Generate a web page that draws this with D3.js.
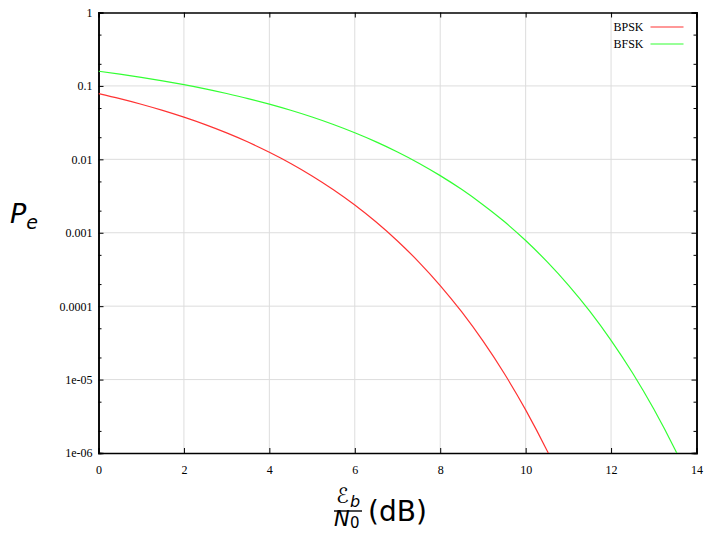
<!DOCTYPE html>
<meta charset="utf-8">
<style>
body { margin: 0; background: #fff; }
.grid line { stroke: #ddd; stroke-width: 1px; }
.line { fill: none; stroke-width: 1.2px; }
</style>
<body>
<div id="container"></div>
<script src="https://cdn.jsdelivr.net/npm/d3@7"></script>
<script>

// Eb/N0 in dB
var snr = [0, 0.5, 1, 1.5, 2, 2.5, 3, 3.5, 4, 4.5, 5, 5.5, 6, 6.5, 7, 7.5,
           8, 8.5, 9, 9.5, 10, 10.5, 11, 11.5, 12, 12.5, 13, 13.5, 14];
var bpsk = [0.0786, 0.0671, 0.0563, 0.0464, 0.0375, 0.0297, 0.0229, 0.0172,
            0.0125, 0.0088, 0.00595, 0.00386, 0.00239, 0.0014, 7.73e-4, 3.99e-4,
            1.91e-4, 8.4e-5, 3.36e-5, 1.21e-5, 3.87e-6, 1.08e-6, 2.6e-7, 5.5e-8,
            1e-8, 1.5e-9, 2e-10, 2e-11, 2e-12];
var bfsk = [0.1587, 0.1448, 0.131, 0.1172, 0.104, 0.0912, 0.0788, 0.0673,
            0.0565, 0.0466, 0.0377, 0.0298, 0.0230, 0.0173, 0.0126, 0.00887,
            0.0060, 0.0039, 0.00241, 0.00142, 7.83e-4, 4.04e-4, 1.94e-4, 8.56e-5,
            3.43e-5, 1.24e-5, 3.97e-6, 1.11e-6, 2.7e-7];
var seriesNames = ["BPSK", "BFSK"];
var seriesColors = ["#ff3333", "#33ff33"];
var xTicks = [0, 2, 4, 6, 8, 10, 12, 14];
var yTicks = [1, 0.1, 0.01, 0.001, 0.0001, 1e-5, 1e-6];
var yTickLabels = ["1", "0.1", "0.01", "0.001", "0.0001", "1e-05", "1e-06"];

var margin = {top: 12.5, right: 9.5, bottom: 80, left: 98.5},
    width = 706 - margin.left - margin.right,
    height = 533 - margin.top - margin.bottom;

var x = d3.scaleLinear().domain([0, 14]).range([0, width]);
var y = d3.scaleLog().domain([1e-6, 1]).range([height, 0]);

var svg = d3.select("#container").append("svg")
    .attr("width", 706).attr("height", 533);
var g = svg.append("g")
    .attr("transform", "translate(" + margin.left + "," + margin.top + ")");

// grid
g.append("g").attr("class", "grid")
  .selectAll("line").data(xTicks.slice(1, -1)).enter().append("line")
    .attr("x1", d => x(d)).attr("x2", d => x(d))
    .attr("y1", 0).attr("y2", height);
g.append("g").attr("class", "grid")
  .selectAll("line").data(yTicks.slice(1, -1)).enter().append("line")
    .attr("x1", 0).attr("x2", width)
    .attr("y1", d => y(d)).attr("y2", d => y(d));

// minor ticks (2 and 5 per decade)
var minor = [];
for (var e = -6; e < 0; e++) { minor.push(2 * Math.pow(10, e)); minor.push(5 * Math.pow(10, e)); }

// axes
var xAxis = d3.axisBottom(x).tickValues(xTicks).tickSize(-5).tickPadding(12);
var yAxis = d3.axisLeft(y).tickValues(yTicks).tickSize(-5).tickPadding(6)
    .tickFormat((d, i) => yTickLabels[i]);

g.append("g").attr("transform", "translate(0," + height + ")").call(xAxis);
g.append("g").call(yAxis);
g.append("g").call(d3.axisTop(x).tickValues(xTicks).tickSize(-5).tickFormat(""));
g.append("g").attr("transform", "translate(" + width + ",0)")
  .call(d3.axisRight(y).tickValues(yTicks).tickSize(-5).tickFormat(""));
g.append("g").call(d3.axisLeft(y).tickValues(minor).tickSize(-3).tickFormat(""));
g.append("g").attr("transform", "translate(" + width + ",0)")
  .call(d3.axisRight(y).tickValues(minor).tickSize(-3).tickFormat(""));
g.selectAll(".domain").attr("stroke", "#000").attr("stroke-width", 1.5);
g.selectAll(".tick line").attr("stroke", "#000");
g.selectAll(".tick text")
  .style("font-family", "'Liberation Serif', serif")
  .style("font-size", "12px").attr("fill", "#000");

// clip
svg.append("clipPath").attr("id", "clip")
  .append("rect").attr("width", width).attr("height", height);

var line = d3.line()
    .x(d => x(d[0])).y(d => y(d[1]))
    .curve(d3.curveMonotoneX);

[bpsk, bfsk].forEach(function(vals, i) {
  g.append("path").attr("class", "line")
    .attr("clip-path", "url(#clip)")
    .attr("stroke", seriesColors[i])
    .attr("d", line(d3.zip(snr, vals)));
});

// legend
seriesNames.forEach(function(n, i) {
  var ly = 14.5 + i * 17;
  g.append("text").attr("x", 515).attr("y", ly).attr("dy", "0.35em")
    .style("font-family", "'Liberation Serif', serif")
    .style("font-size", "12px").text(n);
  g.append("line").attr("x1", 552).attr("x2", 585)
    .attr("y1", ly).attr("y2", ly)
    .attr("stroke", seriesColors[i]).attr("stroke-width", 1.2);
});

// axis labels
var yl = svg.append("text").attr("x", 10).attr("y", 223)
  .style("font-family", "DejaVu Sans").style("font-size", "27px").style("font-style", "italic");
yl.append("tspan").text("P");
yl.append("tspan").attr("dy", 6).style("font-size", "19px").text("e");

var xl = svg.append("g").style("font-family", "DejaVu Sans");
xl.append("text").attr("x", 336).attr("y", 503).style("font-size", "21px").style("font-style", "italic")
  .text("\u2130");
xl.append("text").attr("x", 350).attr("y", 507).style("font-size", "16px").style("font-style", "italic")
  .text("b");
xl.append("line").attr("x1", 334).attr("x2", 362).attr("y1", 511).attr("y2", 511)
  .attr("stroke", "#000").attr("stroke-width", 1.4);
xl.append("text").attr("x", 334).attr("y", 526).style("font-size", "21px").style("font-style", "italic")
  .text("N");
xl.append("text").attr("x", 350).attr("y", 528).style("font-size", "15px")
  .text("0");
xl.append("text").attr("x", 368).attr("y", 521).style("font-size", "28px")
  .text("(dB)");

</script>
</body>
